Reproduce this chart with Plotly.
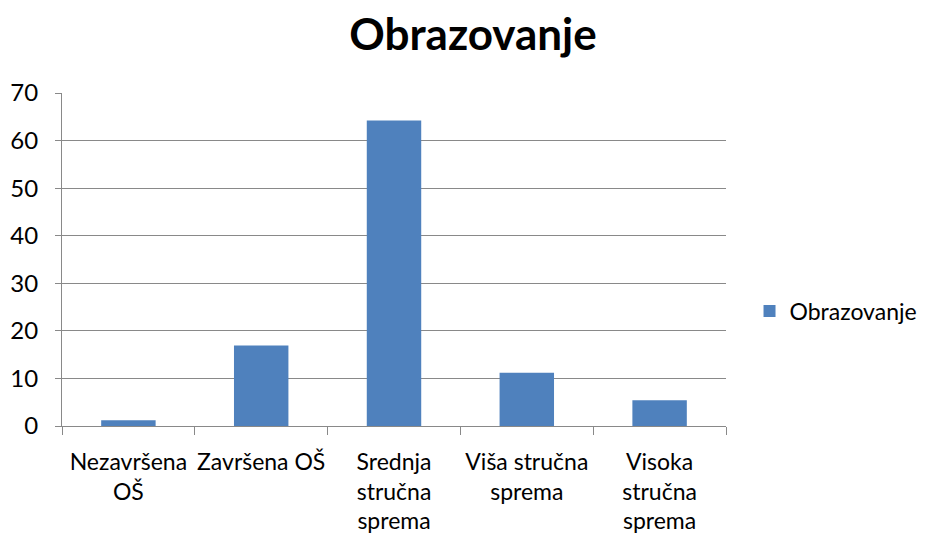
import plotly.graph_objects as go

categories = ["Nezavršena<br>OŠ", "Završena OŠ", "Srednja<br>stručna<br>sprema", "Viša stručna<br>sprema", "Visoka<br>stručna<br>sprema"]
values = [1.2, 16.9, 64.2, 11.2, 5.4]
series_name = "Obrazovanje"
y_ticks = [0, 10, 20, 30, 40, 50, 60, 70]

FONT = "Lato, 'Liberation Sans', sans-serif"
fig = go.Figure()
fig.add_trace(go.Bar(x=categories, y=values, name=series_name, marker_color="#4F81BD",
                     marker_line_width=0))
fig.update_layout(
    width=920, height=529,
    paper_bgcolor="white", plot_bgcolor="white",
    margin=dict(l=54, r=202, t=85, b=111, autoexpand=False),
    bargap=0.59,
    font=dict(family=FONT, size=23, color="black"),
    title=dict(text="<b>Obrazovanje</b>", x=0.619, xref="paper", xanchor="center",
               y=0.949, yanchor="middle", font=dict(size=44, family=FONT)),
    showlegend=True,
    legend=dict(xref="container", x=0.806, xanchor="left", y=0.345, yanchor="middle",
                font=dict(size=23), itemwidth=30),
    xaxis=dict(showline=True, linecolor="#898989", linewidth=1, ticks="outside",
               tickson="boundaries", ticklen=8, tickcolor="#898989", showgrid=False,
               tickangle=0, automargin=False, ticklabelstandoff=15),
    yaxis=dict(range=[0, 70], tickvals=y_ticks, showline=True, linecolor="#898989",
               ticks="outside", ticklen=6, tickcolor="#898989", gridcolor="#898989",
               gridwidth=1, zeroline=False, automargin=False, ticklabelstandoff=12,
               tickfont=dict(size=24)),
)
fig.write_html("out.html")
